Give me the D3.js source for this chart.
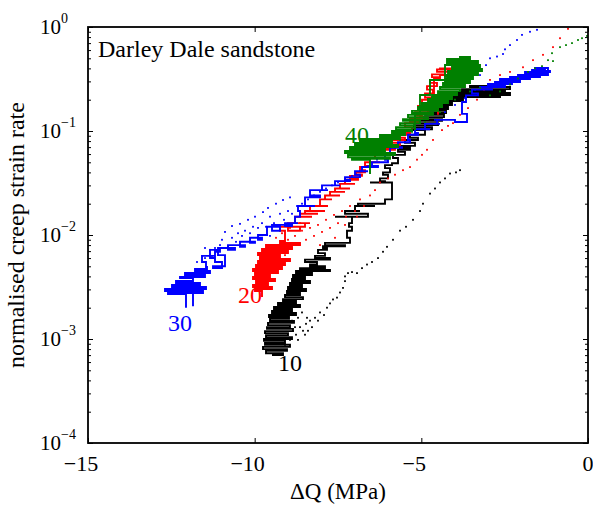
<!DOCTYPE html>
<html>
<head>
<meta charset="utf-8">
<script src="https://cdn.jsdelivr.net/npm/d3@7"></script>
<style>
  body { margin: 0; background: #fff; }
  svg { display: block; }
  svg text { font-family: "Liberation Serif", "Times New Roman", "DejaVu Serif", serif; }
</style>
</head>
<body>
<svg id="chart" width="593" height="507"></svg>
<script>
// ---- data (dQ in MPa, normalised creep strain rate) ----
// 10 MPa (black)
const blackLineQ = [-9.48,-9.15,-9.66,-9.03,-9.75,-8.94,-9.69,-9.09,-9.72,-8.88,-9.66,-9.00,-9.69,-8.85,-9.63,-8.94,-9.60,-8.82,-9.54,-8.97,-9.57,-8.76,-9.48,-8.88,-9.42,-8.64,-9.30,-8.76,-9.15,-8.55,-9.09,-8.64,-9.03,-8.46,-9.00,-8.58,-8.94,-8.34,-8.88,-8.49,-8.85,-8.28,-8.76,
  -7.74,-8.64,-7.89,-8.34,-8.13,-8.49,-7.74,-8.19,-7.89,-8.10,-7.83,-7.95,-7.29,-7.89,-7.20,-7.14,-7.23,-7.08,-7.17,-7.08,-7.59,-6.60,-7.29,-6.84,-6.99,-6.39,-6.90,-6.09,-5.88,-5.88,-6.54,-6.09,-6.24,-6.00,-6.15,-5.94,-6.09,-5.88,-5.70,-5.85,-5.49,-5.70,-5.34,-5.64,-5.19,-5.49,-5.10,-5.34,-4.89,
  -5.28,-4.68,-5.22,-4.50,-5.10,-4.38,-5.04,-4.32,-4.89,-4.26,-4.80,-4.20,-4.68,-4.08,-4.56,-3.75,-4.44,-2.64,-4.20,-2.34,-3.99,-2.49,-3.78,-2.34,-3.54,-2.79];
const blackLineRate = [7.0e-4,7.3e-4,7.7e-4,8.0e-4,8.4e-4,8.8e-4,9.15e-4,9.6e-4,1.0e-3,1.04e-3,1.09e-3,1.14e-3,1.19e-3,1.25e-3,1.30e-3,1.36e-3,1.43e-3,1.49e-3,1.56e-3,1.63e-3,1.70e-3,1.78e-3,1.86e-3,1.94e-3,2.03e-3,2.12e-3,2.22e-3,2.32e-3,2.42e-3,2.53e-3,2.65e-3,2.77e-3,2.89e-3,3.03e-3,3.16e-3,3.31e-3,3.45e-3,3.61e-3,3.77e-3,3.95e-3,4.12e-3,4.31e-3,4.51e-3,
  4.6e-3,4.8e-3,5.0e-3,5.2e-3,5.5e-3,5.8e-3,6.0e-3,6.3e-3,6.7e-3,7.2e-3,7.5e-3,7.8e-3,8.0e-3,8.4e-3,8.4e-3,9.4e-3,0.011,0.012,0.013,0.015,0.015,0.016,0.017,0.017,0.019,0.019,0.020,0.022,0.022,0.032,0.032,0.033,0.035,0.038,0.040,0.044,0.047,0.049,0.055,0.059,0.063,0.066,0.069,0.072,0.077,0.082,0.086,0.092,0.102,
  0.104,0.109,0.114,0.119,0.125,0.130,0.136,0.143,0.149,0.156,0.163,0.170,0.178,0.186,0.194,0.203,0.212,0.217,0.222,0.232,0.237,0.248,0.253,0.265,0.271,0.277];
const blackDotQ = [-9.09,-8.94,-8.85,-8.76,-8.64,-8.55,-8.46,-8.34,-8.28,-8.19,-8.10,-8.04,-7.92,-7.83,-7.74,-7.65,-7.53,-7.44,-7.35,-7.29,-7.29,-7.20,-7.08,-6.93,-6.78,-6.63,-6.48,-6.30,-6.15,-6.03,-5.85,-5.64,-5.46,-5.25,-5.04,-4.95,-4.74,-4.59,-4.44,-4.29,-4.14,-3.96,-3.84,-8.70,-8.49,-8.40,-8.88,-8.70,-8.58,-8.79,-8.43];
const blackDotRate = [8.8e-4,9.8e-4,1.2e-3,1.1e-3,1.3e-3,1.2e-3,1.4e-3,1.5e-3,1.3e-3,1.6e-3,1.5e-3,1.8e-3,1.7e-3,2.0e-3,2.2e-3,2.4e-3,2.5e-3,2.8e-3,3.1e-3,3.6e-3,4.0e-3,4.3e-3,4.4e-3,4.3e-3,4.8e-3,5.2e-3,5.5e-3,6.0e-3,6.9e-3,7.7e-3,9.0e-3,0.011,0.012,0.014,0.017,0.020,0.025,0.028,0.032,0.035,0.039,0.040,0.042,9.8e-4,1.1e-3,1.2e-3,1.5e-3,1.6e-3,1.8e-3,1.3e-3,1.6e-3];

// 20 MPa (red)
const redLineQ = [-9.78,-9.78,-9.99,-9.48,-10.05,-9.60,-9.96,-9.39,-10.05,-9.54,-9.99,-9.30,-10.05,-9.18,-9.96,-9.09,-9.90,-8.94,-9.84,-9.24,-9.90,-9.00,-9.78,-8.88,-9.66,-8.64,-9.24,
  -9.09,-9.24,-8.64,-9.00,-8.49,-8.88,-8.34,-8.79,-8.28,-8.64,-8.10,-8.49,-7.89,-8.34,-7.80,-8.04,-7.68,-7.89,-7.44,-7.74,-7.29,-7.59,-7.14,-7.44,-6.99,-7.29,-6.90,-7.14,-6.78,-6.96,-6.69,-6.84,-6.48,-6.69,-6.24,-6.54,-6.09,-6.39,-6.00,-6.24,-5.79,-6.09,-5.64,-5.94,-5.49,-5.79,-5.34,-5.64,-5.28,-5.49,-5.10,-5.34,-4.98,-5.19,-4.80,-5.10,-4.74,-4.98,-4.68,-4.89,-4.65,-4.83,-4.53,-4.74,-4.44,-4.68,-4.29,-4.53,-3.99,-4.44,-3.78,-4.29,-3.90,-4.44,-4.62,-4.50];
const redLineRate = [2.53e-3,2.89e-3,3.03e-3,3.16e-3,3.31e-3,3.45e-3,3.61e-3,3.77e-3,3.95e-3,4.12e-3,4.31e-3,4.51e-3,4.71e-3,4.92e-3,5.15e-3,5.38e-3,5.62e-3,5.88e-3,6.14e-3,6.42e-3,6.71e-3,7.02e-3,7.33e-3,7.67e-3,8.01e-3,8.38e-3,8.76e-3,
  0.011,0.012,0.011,0.013,0.012,0.013,0.013,0.015,0.015,0.016,0.016,0.017,0.017,0.019,0.019,0.022,0.022,0.024,0.024,0.026,0.026,0.028,0.028,0.031,0.031,0.034,0.035,0.037,0.038,0.040,0.042,0.045,0.046,0.050,0.050,0.055,0.055,0.060,0.061,0.066,0.069,0.073,0.077,0.082,0.086,0.092,0.096,0.102,0.109,0.119,0.122,0.133,0.14,0.152,0.16,0.174,0.18,0.20,0.21,0.23,0.25,0.27,0.29,0.31,0.33,0.35,0.37,0.39,0.39,0.40,0.37,0.34,0.345,0.32,0.217,0.143];
const redDotQ = [-9.60,-9.48,-9.36,-9.24,-9.15,-9.09,-9.00,-8.88,-8.79,-8.70,-8.58,-8.46,-8.34,-8.22,-8.10,-7.98,-7.86,-7.74,-7.62,-7.50,-7.38,-7.26,-7.14,-6.99,-6.84,-6.72,-6.54,-6.39,-6.24,-6.00,-5.79,-5.55,-5.34,-5.13,-4.98,-4.83,-4.65,-4.38,-4.20,-4.05,-3.84,-3.60,-3.33,-3.12,-2.94,-2.64,-2.34,-1.95,-1.65,-1.35,-1.05,-0.84,-0.60,-9.36,-9.18,-8.94,-8.64,-8.04,-7.59,-7.29,-6.93];
const redDotRate = [5.2e-3,6.0e-3,7.2e-3,5.5e-3,8.0e-3,6.4e-3,9.0e-3,7.5e-3,9.8e-3,8.2e-3,0.011,9.0e-3,0.0117,9.8e-3,0.0125,0.0107,0.014,0.0117,0.0156,0.013,0.017,0.015,0.019,0.017,0.022,0.019,0.024,0.027,0.032,0.035,0.038,0.042,0.045,0.053,0.059,0.066,0.082,0.102,0.112,0.119,0.143,0.166,0.20,0.25,0.31,0.345,0.37,0.41,0.48,0.54,0.64,0.78,0.96,9.4e-3,0.0104,0.0117,0.013,8.0e-3,9.4e-3,0.0125,0.015];

// 30 MPa (blue)
const blueLineQ = [-12.06,-12.06,-12.60,-11.55,-12.69,-11.46,-12.48,-11.64,-12.36,-11.85,-11.85,-11.85,-12.24,-11.49,-12.09,-11.34,-11.79,-11.43,
  -11.46,-11.58,-11.19,-11.34,-11.04,-11.19,-10.98,-11.25,-10.89,-11.10,-10.59,-10.80,-10.29,-10.44,-9.99,-10.14,-9.78,-9.90,-9.60,-9.63,-9.24,-9.48,-8.88,-9.09,-8.70,-8.79,-8.64,-8.70,-8.19,-8.49,-8.04,-8.34,-7.80,-7.98,-7.44,-7.59,-7.14,-7.29,-6.84,-6.99,-6.60,-6.78,-6.30,-6.48,-6.00,-6.09,-5.79,-5.94,-5.58,-5.70,-5.34,-5.40,-5.10,-5.19,-4.74,-4.89,-4.44,-4.53,-3.99,-3.63,-3.78,-3.66,-3.30,
  -3.48,-2.88,-3.24,-2.49,-3.00,-2.28,-2.79,-2.04,-2.64,-1.74,-2.34,-1.44,-2.10,-1.20,-1.89,-1.14,-1.68,-1.29,-1.59,-1.20];
const blueLineRate = [2.0e-3,2.7e-3,2.77e-3,2.89e-3,3.03e-3,3.16e-3,3.31e-3,3.45e-3,3.61e-3,3.77e-3,2.07e-3,3.86e-3,3.95e-3,4.12e-3,4.31e-3,4.51e-3,4.71e-3,4.92e-3,
  5.5e-3,6.3e-3,6.0e-3,7.2e-3,6.9e-3,5.5e-3,4.8e-3,5.0e-3,6.4e-3,7.5e-3,7.2e-3,8.0e-3,7.7e-3,8.6e-3,8.4e-3,9.4e-3,9.0e-3,0.010,0.010,0.012,0.011,0.0125,0.0122,0.013,0.013,0.015,0.017,0.019,0.019,0.023,0.024,0.027,0.027,0.030,0.030,0.033,0.034,0.036,0.038,0.041,0.041,0.045,0.046,0.050,0.053,0.059,0.061,0.069,0.070,0.078,0.082,0.092,0.096,0.104,0.104,0.117,0.117,0.128,0.122,0.146,0.19,0.22,0.23,
  0.25,0.253,0.265,0.271,0.283,0.289,0.296,0.303,0.316,0.323,0.331,0.338,0.345,0.353,0.369,0.377,0.386,0.395,0.404,0.386];
const blueDotQ = [-11.73,-11.49,-11.34,-11.19,-11.04,-10.98,-10.80,-10.68,-10.56,-10.50,-10.38,-10.29,-10.14,-10.05,-9.90,-9.78,-9.66,-9.54,-9.42,-9.24,-9.12,-9.00,-8.88,-8.73,-8.58,-8.40,-8.22,-8.04,-7.86,-7.68,-7.50,-7.29,-7.08,-6.84,-6.60,-6.33,-6.06,-5.79,-5.49,-5.19,-4.89,-4.59,-4.29,-3.99,-3.69,-3.39,-3.24,-3.06,-2.94,-2.73,-2.55,-2.49,-2.34,-2.13,-1.98,-1.74,-1.53,-10.89,-10.68,-10.44,-10.20,-9.99,-9.75,-9.60,-9.36,-9.15,-8.94,-10.14,-9.54,-11.28,-11.49];
const blueDotRate = [5.5e-3,6.0e-3,7.2e-3,7.5e-3,8.0e-3,9.0e-3,7.8e-3,9.4e-3,8.6e-3,0.0104,9.8e-3,0.011,0.0104,0.012,0.0117,0.013,0.012,0.015,0.013,0.016,0.014,0.017,0.016,0.019,0.020,0.022,0.024,0.026,0.028,0.030,0.032,0.035,0.037,0.041,0.046,0.053,0.060,0.069,0.078,0.092,0.107,0.128,0.152,0.178,0.207,0.25,0.345,0.43,0.50,0.52,0.55,0.61,0.67,0.75,0.84,0.90,0.94,0.0107,0.0122,0.0128,0.014,0.015,0.0166,0.0182,0.020,0.0217,0.023,8.6e-3,9.8e-3,6.3e-3,7.5e-3];

// 40 MPa (green)
const greenLineQ = [-6.54,-6.54,-7.08,-5.94,-7.20,-5.79,-7.29,-6.09,-7.14,-5.70,-6.99,-5.88,-6.84,-5.64,-6.24,-5.49,-5.88,-5.28,-5.76,-5.19,-5.64,-5.04,-5.55,-4.80,-5.40,-4.65,-5.28,-4.50,-5.10,-4.38,-4.98,-4.20,-4.80,-4.08,-4.68,-3.93,-4.50,-3.84,-4.44,-3.69,-4.35,-3.54,-4.29,-3.45,-4.23,-3.30,-4.20,-3.18,-4.08,-3.24,-4.23,-3.30,-4.23,-3.54,-3.84,-4.14,-4.29,-4.74,-5.04,-5.19];
const greenLineRate = [0.0386,0.053,0.054,0.056,0.0588,0.0614,0.0642,0.0671,0.0702,0.0733,0.0767,0.0801,0.0838,0.0876,0.0915,0.0957,0.100,0.104,0.109,0.114,0.119,0.125,0.130,0.136,0.143,0.149,0.156,0.163,0.170,0.178,0.186,0.194,0.203,0.212,0.222,0.232,0.242,0.253,0.265,0.277,0.289,0.303,0.316,0.331,0.345,0.361,0.377,0.395,0.412,0.431,0.451,0.471,0.492,0.515,0.492,0.431,0.309,0.222,0.143,0.102];
const greenDotQ = [-5.64,-5.28,-4.89,-4.44,-3.99,-3.54,-3.24,-2.94,-2.64,-2.34,-2.10,-1.80,-1.59,-1.38,-1.20,-1.05,-1.08,-0.84,-0.66,-0.48,-0.30,-0.18,-0.03];
const greenDotRate = [0.082,0.098,0.122,0.152,0.20,0.24,0.26,0.22,0.24,0.28,0.32,0.37,0.40,0.42,0.48,0.47,0.56,0.64,0.67,0.70,0.75,0.78,0.82];

// series labels (confining pressure, MPa) and where they sit
const labelText = ["10", "20", "30", "40"];
const labelQ = [-9.3, -10.5, -12.6, -7.29];
const labelRate = [4.9e-4, 2.2e-3, 1.2e-3, 0.077];
const labelColor = ["#000000", "#ff0000", "#0000ff", "#008000"];

const xTicks = [-15, -10, -5, 0];
const yTicks = [1e-4, 1e-3, 1e-2, 1e-1, 1];

const FONT = '"Liberation Serif", "Times New Roman", "DejaVu Serif", serif';

// ---- layout ----
var margin = { top: 27, right: 5, bottom: 64, left: 88 },
  width = 593 - margin.left - margin.right,
  height = 507 - margin.top - margin.bottom;

const svg = d3.select("#chart").style("font-family", FONT);
const g = svg.append("g").attr("transform", "translate(" + margin.left + "," + margin.top + ")");

var x = d3.scaleLinear().domain([-15, 0]).range([0, width]);
var y = d3.scaleLog().domain([1e-4, 1]).range([height, 0]);

// minor ticks 2..9 of each decade
const yMinor = [];
for (let d = -4; d < 0; d++) for (let m = 2; m <= 9; m++) yMinor.push(m * Math.pow(10, d));

g.append("defs").append("clipPath").attr("id", "plotclip")
  .append("rect").attr("width", width).attr("height", height);

const plot = g.append("g").attr("clip-path", "url(#plotclip)");

// noisy records: each sample is held until the next one -> horizontal strokes
const line = d3.line()
  .x(d => x(d[0]))
  .y(d => y(d[1]))
  .curve(d3.curveStepAfter);

function drawSeries(lq, lr, dq, dr, color) {
  plot.append("path")
    .datum(d3.zip(lq, lr))
    .attr("d", line)
    .attr("fill", "none")
    .attr("stroke", color)
    .attr("stroke-width", 1.9);
  plot.append("g").selectAll("rect")
    .data(d3.zip(dq, dr))
    .join("rect")
    .attr("x", d => x(d[0]) - 0.9)
    .attr("y", d => y(d[1]) - 0.9)
    .attr("width", 1.8)
    .attr("height", 1.8)
    .attr("fill", color);
}

drawSeries(blackLineQ, blackLineRate, blackDotQ, blackDotRate, "#000000");
drawSeries(redLineQ, redLineRate, redDotQ, redDotRate, "#ff0000");
drawSeries(blueLineQ, blueLineRate, blueDotQ, blueDotRate, "#0000ff");
drawSeries(greenLineQ, greenLineRate, greenDotQ, greenDotRate, "#008000");

// ---- axes (ticks pointing inward on all four sides) ----
function styleAxis(sel) {
  sel.select(".domain").remove();
  sel.selectAll(".tick line").attr("stroke", "#000").attr("stroke-width", 1);
}
g.append("g").attr("transform", "translate(0," + height + ")")
  .call(d3.axisBottom(x).tickValues(xTicks).tickSizeInner(-5).tickSizeOuter(0).tickFormat(""))
  .call(styleAxis);
g.append("g")
  .call(d3.axisTop(x).tickValues(xTicks).tickSizeInner(-5).tickSizeOuter(0).tickFormat(""))
  .call(styleAxis);
g.append("g")
  .call(d3.axisLeft(y).tickValues(yTicks).tickSizeInner(-5).tickSizeOuter(0).tickFormat(""))
  .call(styleAxis);
g.append("g")
  .call(d3.axisLeft(y).tickValues(yMinor).tickSizeInner(-3).tickSizeOuter(0).tickFormat(""))
  .call(styleAxis);
g.append("g").attr("transform", "translate(" + width + ",0)")
  .call(d3.axisRight(y).tickValues(yTicks).tickSizeInner(-5).tickSizeOuter(0).tickFormat(""))
  .call(styleAxis);
g.append("g").attr("transform", "translate(" + width + ",0)")
  .call(d3.axisRight(y).tickValues(yMinor).tickSizeInner(-3).tickSizeOuter(0).tickFormat(""))
  .call(styleAxis);

g.append("rect")
  .attr("width", width).attr("height", height)
  .attr("fill", "none").attr("stroke", "#000").attr("stroke-width", 1.8);

// x tick labels: digits centred on the tick, minus sign hanging left
g.append("g").selectAll("text")
  .data(xTicks)
  .join("text")
  .attr("x", d => x(d) + (d < 0 ? -7 : 0))
  .attr("y", height + 28)
  .attr("text-anchor", "middle")
  .attr("font-family", FONT)
  .attr("font-size", 22)
  .text(d => (d < 0 ? "\u2212" + Math.abs(d) : "0"));

// y tick labels 10^n
const yl = g.append("g").selectAll("text")
  .data(yTicks)
  .join("text")
  .attr("x", -48)
  .attr("y", d => y(d) + 7)
  .attr("font-family", FONT)
  .attr("font-size", 21);
yl.append("tspan").text("10");
yl.append("tspan")
  .attr("font-size", 14)
  .attr("dy", -11)
  .text(d => {
    const e = Math.round(Math.log10(d));
    return e < 0 ? "\u2212" + Math.abs(e) : String(e);
  });

// axis titles
svg.append("text")
  .attr("x", margin.left + width / 2)
  .attr("y", 499)
  .attr("text-anchor", "middle")
  .attr("font-family", FONT)
  .attr("font-size", 23)
  .text("\u0394Q (MPa)");
svg.append("text")
  .attr("transform", "translate(24," + (margin.top + height / 2) + ") rotate(-90)")
  .attr("text-anchor", "middle")
  .attr("font-family", FONT)
  .attr("font-size", 24)
  .text("normalised creep strain rate");

// panel title
g.append("text")
  .attr("x", 10)
  .attr("y", 30)
  .attr("font-family", FONT)
  .attr("font-size", 24)
  .text("Darley Dale sandstone");

// series labels
g.append("g").selectAll("text")
  .data(labelText)
  .join("text")
  .attr("x", (d, i) => x(labelQ[i]))
  .attr("y", (d, i) => y(labelRate[i]))
  .attr("font-family", FONT)
  .attr("font-size", 24)
  .attr("fill", (d, i) => labelColor[i])
  .text(d => d);
</script>
</body>
</html>
